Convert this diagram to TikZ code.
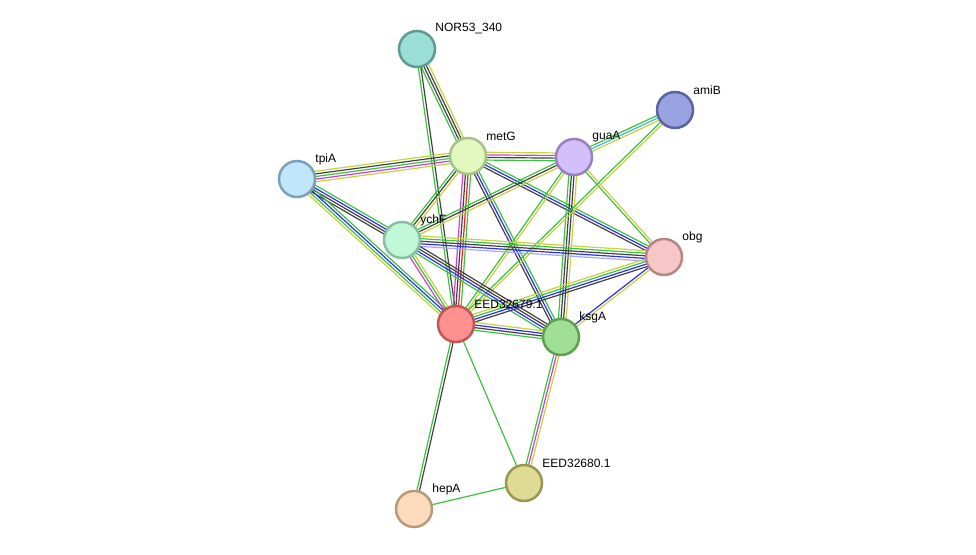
\documentclass[tikz,border=0pt]{standalone}
\usepackage{fontspec}
\setmainfont{Liberation Sans}
\usetikzlibrary{calc}
\usetikzlibrary{backgrounds}

\definecolor{sgreen}{HTML}{3DC23D}
\definecolor{sblack}{HTML}{424242}
\definecolor{syellow}{HTML}{C5D33C}
\definecolor{sblue}{HTML}{2E2EF0}
\definecolor{smagenta}{HTML}{D43DD4}
\definecolor{sred}{HTML}{F02020}
\definecolor{scyan}{HTML}{3CB8D8}
\definecolor{slblue}{HTML}{A8A8F8}

\tikzset{
  prot/.style={circle, minimum size=36pt, inner sep=0pt, line width=2.5pt},
  lbl/.style={font=\fontsize{12}{12}\selectfont, inner sep=0pt, xshift=-1pt, yshift=20pt, label distance=0pt},
}

% parallel evidence lines between two nodes
\newcommand\link[3]{%
  \foreach \c [count=\n] in {#3} {\xdef\nlines{\n}}
  \foreach \c [count=\i] in {#3} {
    \pgfmathsetmacro\off{(\i-(\nlines+1)/2)*2.6}
    \draw[\c, line width=1.2pt] ($(#1)!\off pt!90:(#2)$) -- ($(#2)!\off pt!-90:(#1)$);
  }
}

\begin{document}
\begin{tikzpicture}[x=1pt, y=-1pt]
  \useasboundingbox (0,0) rectangle (976,554);

  \node[prot, fill={rgb,255:red,153;green,223;blue,214}, draw={rgb,255:red,91;green,155;blue,148},
    label={[lbl]0:NOR53\_340}] (nor) at (417,49) {};
  \node[prot, fill={rgb,255:red,154;green,163;blue,226}, draw={rgb,255:red,91;green,98;blue,163},
    label={[lbl]0:amiB}] (amib) at (675,110) {};
  \node[prot, fill={rgb,255:red,226;green,248;blue,190}, draw={rgb,255:red,168;green,194;blue,138},
    label={[lbl]0:metG}] (metg) at (468,156) {};
  \node[prot, fill={rgb,255:red,211;green,192;blue,251}, draw={rgb,255:red,152;green,128;blue,195},
    label={[lbl]0:guaA}] (guaa) at (574,157) {};
  \node[prot, fill={rgb,255:red,192;green,230;blue,251}, draw={rgb,255:red,124;green,160;blue,187},
    label={[lbl]0:tpiA}] (tpia) at (297,179) {};
  \node[prot, fill={rgb,255:red,192;green,247;blue,215}, draw={rgb,255:red,134;green,192;blue,160},
    label={[lbl]0:ychF}] (ychf) at (402,240) {};
  \node[prot, fill={rgb,255:red,247;green,198;blue,198}, draw={rgb,255:red,184;green,133;blue,133},
    label={[lbl]0:obg}] (obg) at (664,257) {};
  \node[prot, fill={rgb,255:red,255;green,144;blue,144}, draw={rgb,255:red,193;green,86;blue,86},
    label={[lbl]0:EED32679.1}] (eed79) at (456,324) {};
  \node[prot, fill={rgb,255:red,159;green,224;blue,149}, draw={rgb,255:red,95;green,159;blue,85},
    label={[lbl]0:ksgA}] (ksga) at (561,337) {};
  \node[prot, fill={rgb,255:red,222;green,219;blue,151}, draw={rgb,255:red,154;green,151;blue,82},
    label={[lbl]0:EED32680.1}] (eed80) at (524,483) {};
  \node[prot, fill={rgb,255:red,253;green,220;blue,189}, draw={rgb,255:red,185;green,153;blue,122},
    label={[lbl]0:hepA}] (hepa) at (414,509) {};

  \begin{pgfonlayer}{background}
    \link{nor}{metg}{sgreen,sblack,sblack,syellow}
    \link{nor}{eed79}{sgreen,sblack}
    \link{metg}{tpia}{syellow,sblack,sgreen,smagenta,syellow}
    \link{metg}{guaa}{sgreen,sblack,smagenta,syellow}
    \link{metg}{ychf}{sgreen,sblack,syellow}
    \link{metg}{eed79}{smagenta,sblack,sred,sgreen}
    \link{metg}{ksga}{sblack,sblue,sgreen}
    \link{metg}{obg}{sblack,sblue,sgreen}
    \link{guaa}{amib}{syellow,scyan,sgreen}
    \link{guaa}{ychf}{sgreen,sblack,syellow}
    \link{guaa}{ksga}{sgreen,sblack,sblack,syellow}
    \link{guaa}{obg}{sgreen,syellow}
    \link{guaa}{eed79}{sgreen,syellow}
    \link{amib}{eed79}{sgreen,syellow}
    \link{tpia}{ychf}{sblack,sblack,sblue,sgreen}
    \link{tpia}{eed79}{syellow,sgreen,sblue,sgreen}
    \link{ychf}{obg}{slblue,sblue,sblack,sgreen,syellow}
    \link{ychf}{eed79}{smagenta,sgreen,syellow}
    \link{ychf}{ksga}{sgreen,sblue,sblack,sblack}
    \link{eed79}{obg}{sblack,sblue,sgreen,syellow}
    \link{eed79}{ksga}{sgreen,sblack,sblue,syellow}
    \link{ksga}{obg}{syellow,sblue}
    \link{ksga}{eed80}{sgreen,smagenta,syellow}
    \link{eed79}{eed80}{sgreen}
    \link{eed79}{hepa}{sgreen,sblack}
    \link{hepa}{eed80}{sgreen}
  \end{pgfonlayer}
\end{tikzpicture}
\end{document}
